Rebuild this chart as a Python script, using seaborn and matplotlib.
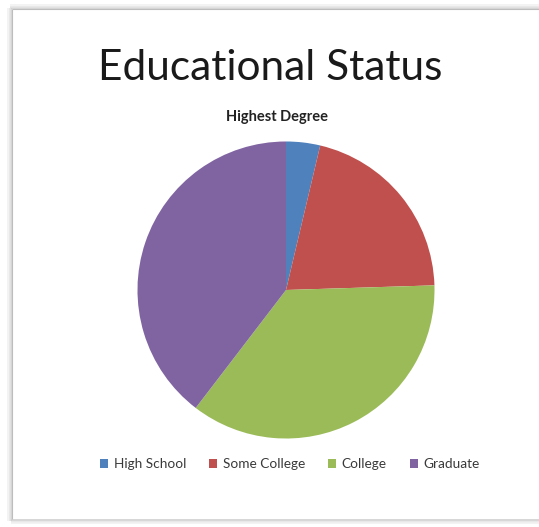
import matplotlib
matplotlib.use("Agg")
import matplotlib.pyplot as plt
import seaborn as sns
from matplotlib.lines import Line2D
from matplotlib.patches import Patch

# data (share of respondents, %)
categories = ["High School", "Some College", "College", "Graduate"]
shares = [3.7, 20.8, 35.9, 39.6]
colors = ["#4F81BD", "#C0504D", "#9BBB59", "#8064A2"]

sns.set_theme(style="white")
plt.rcParams['font.family'] = ['Lato', 'DejaVu Sans']

W, H = 539, 527
fig = plt.figure(figsize=(W / 100, H / 100), dpi=100)
fig.patch.set_facecolor("white")

# frame around the chart area (light grey with soft shadow)
def px_line(x0, y0, x1, y1, color, lw):
    fig.add_artist(Line2D([x0 / W, x1 / W], [1 - y0 / H, 1 - y1 / H],
                          transform=fig.transFigure, color=color, lw=lw,
                          solid_capstyle="butt"))

for off, c in [(0, "#d0d0d0"), (1.5, "#e4e4e4"), (3, "#f1f1f1")]:
    px_line(10, 8 - off, W, 8 - off, c, 1.2)
    px_line(11 - off, 8, 11 - off, 521, c, 1.2)
    px_line(11, 520 + off, W, 520 + off, c, 1.2)
px_line(12, 9, W, 9, "#bdbdbd", 0.8)
px_line(12, 9, 12, 519, "#bdbdbd", 0.8)

# pie axes: centre ~ (286, 290) px, radius ~150 px
r = 150
cx, cy = 286, 290
ax = fig.add_axes([(cx - r) / W, 1 - (cy + r) / H, 2 * r / W, 2 * r / H])
ax.pie(shares, colors=colors, startangle=90, counterclock=False, radius=1,
       wedgeprops=dict(linewidth=0))
ax.set_xlim(-1.01, 1.01)
ax.set_ylim(-1.01, 1.01)
ax.set_aspect("equal")
ax.axis("off")

fig.text(270 / W, 1 - 68 / H, "Educational Status", ha="center", va="center",
         fontsize=30.5, color="#1a1a1a")
fig.text(277 / W, 1 - 117 / H, "Highest Degree", ha="center", va="center",
         fontsize=10.5, fontweight="bold", color="#222222")

handles = [Patch(facecolor=c, edgecolor="none") for c in colors]
fig.legend(handles, categories, loc="center", ncol=4,
           bbox_to_anchor=(290 / W, 1 - 464 / H), frameon=False,
           fontsize=9.8, handlelength=0.6, handleheight=0.6,
           handletextpad=0.4, columnspacing=1.7, labelcolor="#3a3a3a")

fig.savefig("out.png", dpi=100, facecolor="white")
